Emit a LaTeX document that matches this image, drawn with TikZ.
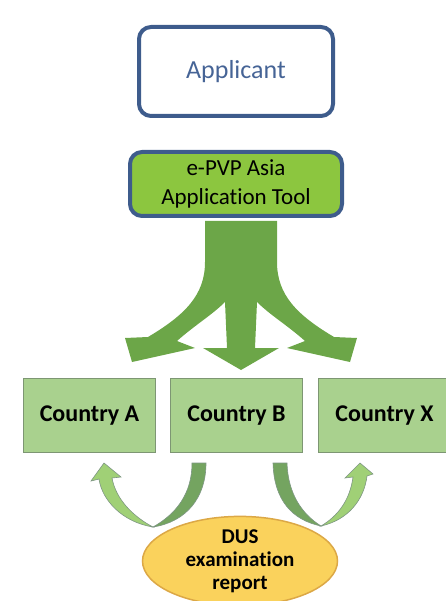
\documentclass[tikz,border=0pt]{standalone}
\usepackage{fontspec}
\setmainfont[Ligatures=NoCommon]{Carlito}
\usetikzlibrary{shapes.geometric,positioning}
\definecolor{frameblue}{RGB}{62,92,140}
\definecolor{textblue}{RGB}{70,100,150}
\definecolor{toolgreen}{RGB}{140,198,63}
\definecolor{countrygreen}{RGB}{169,209,142}
\definecolor{countryline}{RGB}{125,150,115}
\definecolor{arrowgreen}{RGB}{108,166,72}
\definecolor{darkband}{RGB}{116,164,96}
\definecolor{lightband}{RGB}{160,208,118}
\definecolor{bandline}{RGB}{125,150,130}
\definecolor{dusyellow}{RGB}{250,210,92}
\definecolor{dusline}{RGB}{220,168,70}

\begin{document}
\begin{tikzpicture}[x=1pt,y=-1pt,
  box/.style={draw=frameblue,line width=4pt,rounded corners=12pt,inner sep=0pt},
  country/.style={draw=countryline,line width=1pt,fill=countrygreen,minimum width=132pt,
    minimum height=74pt,inner sep=0pt,font=\fontsize{24}{28}\selectfont\bfseries},
  band/.style={draw=bandline,line width=0.6pt}]
  \useasboundingbox (0,0) rectangle (446,601);
  \node[box,minimum width=194pt,minimum height=89pt,text=textblue,font=\fontsize{26}{30}\selectfont] (applicant) at (236,71.5) {Applicant};
  \node[box,fill=toolgreen,minimum width=212pt,minimum height=64pt,align=center,font=\fontsize{23}{29}\selectfont] (tool) at (236,184) {e-PVP Asia\\Application Tool};
  \node[country] (countryA) at (89.5,415.5) {Country A};
  \node[country,right=14pt of countryA] (countryB) {Country B};
  \node[country,right=15pt of countryB] (countryX) {Country X};
  \fill[arrowgreen] (205,221) -- (205,262) .. controls (205,295) and (185,315) .. (148,337) -- (125,338) -- (132,362) -- (195,348) -- (177,341)
    .. controls (195,325) and (212,315) .. (225,302) -- (227,348) -- (203,348) -- (241,370) -- (279,348) -- (255,348) -- (257,302)
    .. controls (270,315) and (287,325) .. (305,341) -- (287,348) -- (350,362) -- (357,338) -- (334,337)
    .. controls (297,315) and (277,295) .. (277,262) -- (277,221) -- cycle;
  \filldraw[band,fill=darkband] (192,463) -- (206,463) .. controls (206,498) and (186,522) .. (153,527) .. controls (176,514) and (192,494) .. (192,463) -- cycle;
  \filldraw[band,fill=lightband] (153,527) .. controls (122,522) and (102,500) .. (99,479) -- (91,481) -- (104,463) -- (121,477) -- (112,478) .. controls (116,500) and (134,517) .. (153,527) -- cycle;
  \filldraw[band,fill=darkband] (273,463) -- (287,463) .. controls (288,494) and (302,514) .. (321,526) .. controls (292,520) and (274,500) .. (273,463) -- cycle;
  \filldraw[band,fill=lightband] (321,526) .. controls (348,520) and (364,500) .. (367,476) -- (373,474) -- (360,463) -- (345,478) -- (353,477) .. controls (350,500) and (338,516) .. (321,526) -- cycle;
  \node[ellipse,draw=dusline,line width=1.5pt,fill=dusyellow,minimum width=195pt,minimum height=84pt,inner sep=0pt,align=center,
    font=\fontsize{21}{23}\selectfont\bfseries] (dus) at (240,561) {DUS\\examination\\report};
\end{tikzpicture}
\end{document}
